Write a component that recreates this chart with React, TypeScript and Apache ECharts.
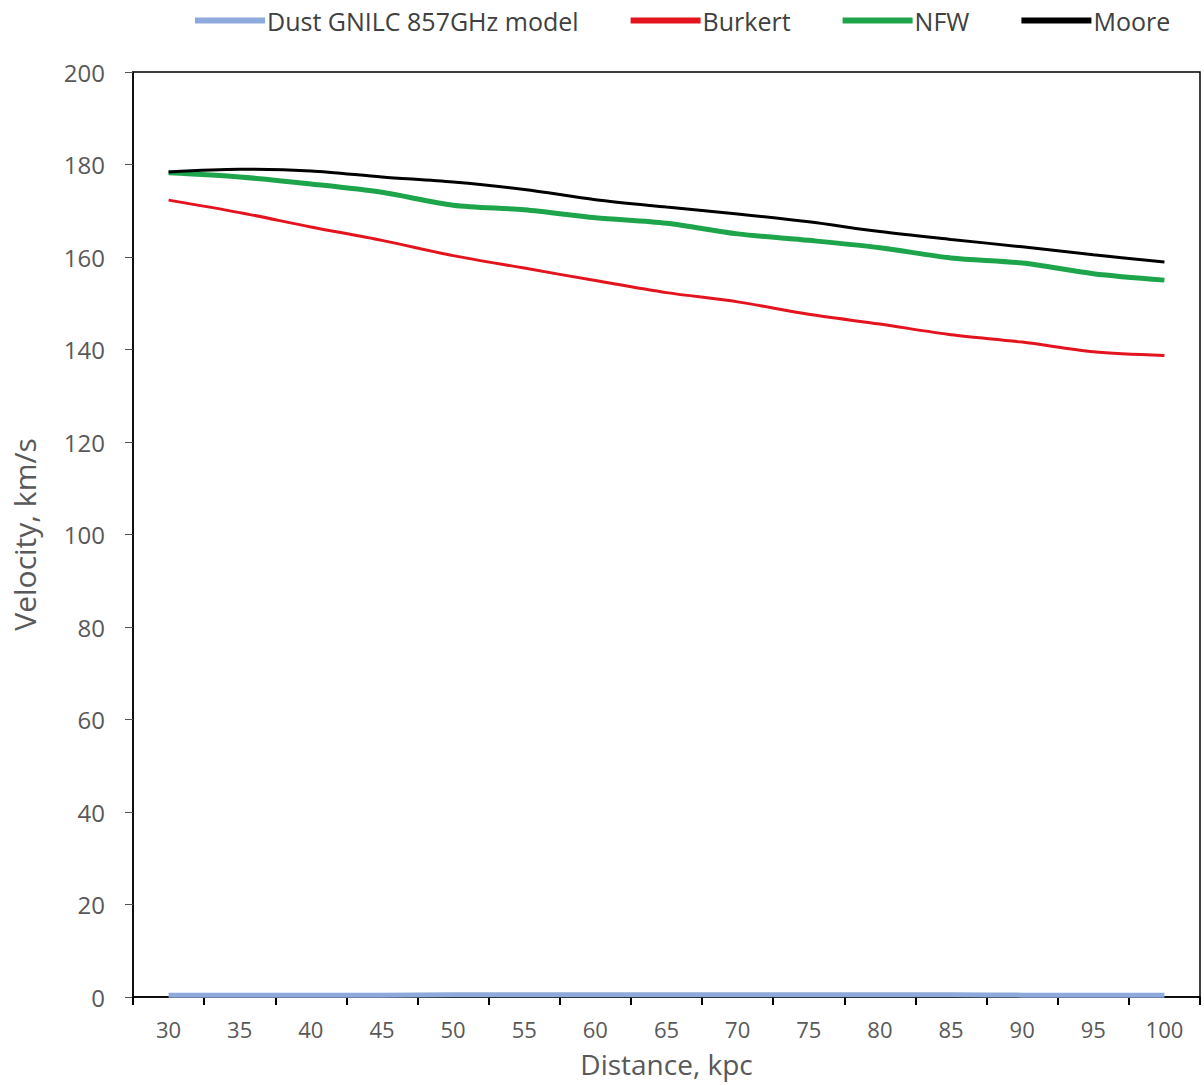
import React, { useEffect, useRef } from "react";
import * as echarts from "echarts";

const distances = ["30", "35", "40", "45", "50", "55", "60", "65", "70", "75", "80", "85", "90", "95", "100"];
const dust = [0.4, 0.4, 0.4, 0.4, 0.5, 0.5, 0.5, 0.5, 0.5, 0.5, 0.5, 0.5, 0.4, 0.4, 0.4];
const burkert = [172.3, 169.6, 166.5, 163.6, 160.3, 157.6, 154.9, 152.3, 150.3, 147.6, 145.5, 143.2, 141.6, 139.5, 138.7];
const nfw = [178.2, 177.3, 175.8, 174.0, 171.2, 170.2, 168.5, 167.3, 165.0, 163.6, 162.0, 159.8, 158.7, 156.4, 155.0];
const moore = [178.4, 179.0, 178.6, 177.3, 176.2, 174.6, 172.4, 170.8, 169.3, 167.6, 165.5, 163.8, 162.2, 160.5, 158.9];

const FONT = "Open Sans";
const TXT = "#595959";

export default function App() {
  const ref = useRef<HTMLDivElement>(null);
  useEffect(() => {
    document.body.style.margin = "0";
    const chart = echarts.init(ref.current!, null, { renderer: "svg" });
    chart.setOption({
      animation: false,
      backgroundColor: "#ffffff",
      textStyle: { fontFamily: FONT },
      legend: {
        top: 3,
        left: 190,
        itemWidth: 70,
        itemHeight: 6,
        itemGap: 52,
        icon: "rect",
        textStyle: { fontFamily: FONT, fontSize: 25, color: "#404040", padding: [0, 0, 0, -3] },
        data: ["Dust GNILC 857GHz model", "Burkert", "NFW", "Moore"],
      },
      grid: {
        left: 133,
        right: 4,
        top: 72,
        bottom: 88,
        outerBoundsMode: "none",
        containLabel: false,
        show: true,
        borderColor: "#000000",
        borderWidth: 1.5,
      },
      xAxis: {
        type: "category",
        data: distances,
        boundaryGap: true,
        name: "Distance, kpc",
        nameLocation: "middle",
        nameGap: 53,
        nameTextStyle: { fontFamily: FONT, fontSize: 28, color: TXT },
        axisLine: { show: true, lineStyle: { color: "#000000", width: 1.5 } },
        axisTick: { show: true, interval: 0, length: 8, lineStyle: { color: "#000000", width: 2 } },
        axisLabel: { interval: 0, margin: 21, fontFamily: FONT, fontSize: 22, color: TXT },
        splitLine: { show: false },
      },
      yAxis: {
        type: "value",
        min: 0,
        max: 200,
        interval: 20,
        name: "Velocity, km/s",
        nameLocation: "middle",
        nameGap: 94,
        nameRotate: 90,
        nameTextStyle: { fontFamily: FONT, fontSize: 30, color: TXT },
        axisLine: { show: true, lineStyle: { color: "#000000", width: 1.5 } },
        axisTick: { show: true, length: 8, lineStyle: { color: "#555555", width: 1 } },
        axisLabel: { margin: 28, fontFamily: FONT, fontSize: 24, color: TXT },
        splitLine: { show: false },
      },
      series: [
        {
          name: "Dust GNILC 857GHz model",
          type: "line",
          data: dust,
          smooth: 0.3,
          symbol: "none",
          itemStyle: { color: "#8EA9DB" },
          lineStyle: { color: "#8EA9DB", width: 5 },
        },
        {
          name: "Burkert",
          type: "line",
          data: burkert,
          smooth: 0.3,
          symbol: "none",
          itemStyle: { color: "#E3141E" },
          lineStyle: { color: "#E3141E", width: 3 },
        },
        {
          name: "NFW",
          type: "line",
          data: nfw,
          smooth: 0.3,
          symbol: "none",
          itemStyle: { color: "#1EA54C" },
          lineStyle: { color: "#1EA54C", width: 5 },
        },
        {
          name: "Moore",
          type: "line",
          data: moore,
          smooth: 0.3,
          symbol: "none",
          itemStyle: { color: "#000000" },
          lineStyle: { color: "#000000", width: 3 },
        },
      ],
    });
    return () => chart.dispose();
  }, []);
  return <div ref={ref} style={{ width: 1204, height: 1085 }} />;
}
